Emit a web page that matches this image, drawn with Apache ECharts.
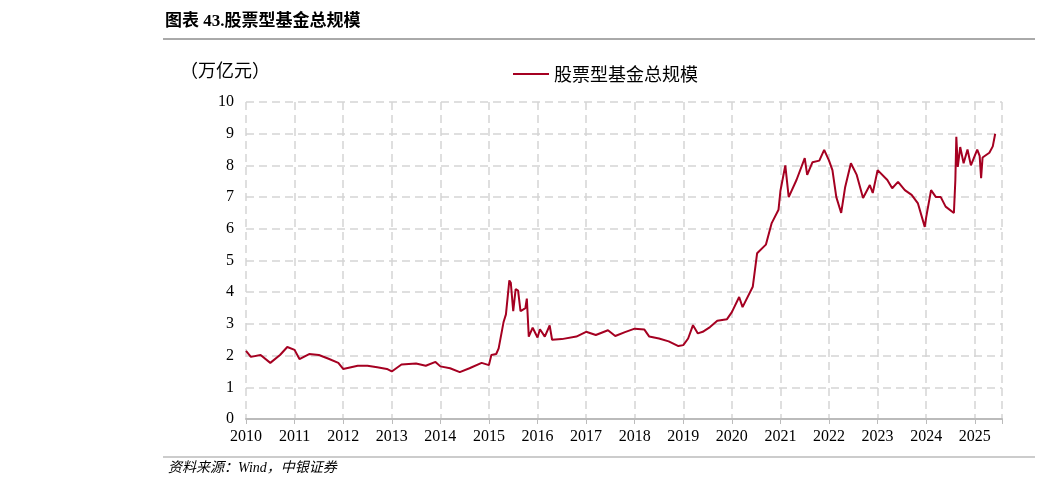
<!DOCTYPE html>
<html>
<head>
<meta charset="utf-8">
<script src="https://cdn.jsdelivr.net/npm/echarts@6/dist/echarts.min.js"></script>
<style>
  body { margin: 0; background: #fff; }
  #chart { width: 1042px; height: 484px; }
</style>
</head>
<body>
<div id="chart"></div>
<script>
// x = 年份(小数), y = 万亿元
const years = [
  2010.0, 2010.1, 2010.3, 2010.5, 2010.7, 2010.85, 2011.0, 2011.1, 2011.3, 2011.5, 2011.7, 2011.9,
  2012.0, 2012.3, 2012.5, 2012.7, 2012.9, 2013.0, 2013.2, 2013.5, 2013.7, 2013.9, 2014.0, 2014.2,
  2014.4, 2014.6, 2014.85, 2015.0, 2015.05, 2015.15, 2015.2, 2015.3, 2015.35, 2015.42, 2015.45,
  2015.5, 2015.55, 2015.6, 2015.65, 2015.75, 2015.78, 2015.82, 2015.9, 2016.0, 2016.05, 2016.15,
  2016.25, 2016.3, 2016.5, 2016.8, 2017.0, 2017.2, 2017.45, 2017.6, 2017.8, 2018.0, 2018.2, 2018.3,
  2018.5, 2018.7, 2018.9, 2019.0, 2019.1, 2019.2, 2019.3, 2019.4, 2019.55, 2019.7, 2019.9, 2020.0,
  2020.15, 2020.22, 2020.43, 2020.52, 2020.7, 2020.82, 2020.96, 2021.0, 2021.1, 2021.17, 2021.33,
  2021.5, 2021.55, 2021.66, 2021.8, 2021.9, 2022.0, 2022.07, 2022.15, 2022.25, 2022.33, 2022.45,
  2022.57, 2022.7, 2022.84, 2022.9, 2023.0, 2023.2, 2023.3, 2023.42, 2023.56, 2023.7, 2023.83,
  2023.97, 2024.0, 2024.1, 2024.2, 2024.3, 2024.4, 2024.57, 2024.6, 2024.62, 2024.65, 2024.7,
  2024.77, 2024.85, 2024.92, 2025.05, 2025.1, 2025.13, 2025.16, 2025.3, 2025.37, 2025.42
];
const scale = [
  2.15, 1.96, 2.02, 1.77, 2.02, 2.27, 2.18, 1.89, 2.05, 2.02, 1.9, 1.77,
  1.58, 1.68, 1.68, 1.63, 1.58, 1.5, 1.72, 1.75, 1.68, 1.8, 1.66, 1.6,
  1.48, 1.6, 1.77, 1.7, 2.02, 2.05, 2.23, 3.05, 3.3, 4.37, 4.3,
  3.4, 4.1, 4.05, 3.4, 3.5, 3.8, 2.6, 2.88, 2.57, 2.83, 2.6,
  2.95, 2.5, 2.52, 2.6, 2.75, 2.65, 2.8, 2.62, 2.74, 2.85, 2.82, 2.6,
  2.54, 2.45, 2.3, 2.33, 2.54, 2.96, 2.7, 2.75, 2.9, 3.1, 3.15, 3.37,
  3.85, 3.53, 4.17, 5.23, 5.5, 6.18, 6.6, 7.2, 8.0, 7.0, 7.54,
  8.23, 7.7, 8.1, 8.15, 8.49, 8.15, 7.85, 7.0, 6.5, 7.3, 8.07,
  7.7, 6.97, 7.38, 7.13, 7.85, 7.54, 7.28, 7.48, 7.22, 7.07, 6.8,
  6.06, 6.37, 7.22, 7.0, 7.0, 6.7, 6.5, 7.54, 8.9, 7.95, 8.58,
  8.07, 8.5, 8.0, 8.5, 8.3, 7.6, 8.25, 8.4, 8.6, 9.0
];
const seriesName = '股票型基金总规模';

const chart = echarts.init(document.getElementById('chart'));
chart.setOption({
  animation: false,
  textStyle: { fontFamily: '"Liberation Serif", "Noto Sans CJK SC", serif', color: '#000' },
  graphic: [
    { type: 'text', left: 165, top: 13, style: { text: '图表 43.股票型基金总规模', font: 'bold 17px "Liberation Serif", "Noto Sans CJK SC"', fill: '#000' } },
    { type: 'line', shape: { x1: 163, y1: 39, x2: 1035, y2: 39 }, style: { stroke: '#555', lineWidth: 1 } },
    { type: 'line', shape: { x1: 163, y1: 457, x2: 1035, y2: 457 }, style: { stroke: '#999', lineWidth: 1 } },
    { type: 'text', left: 168, top: 461, style: { text: '资料来源：Wind，中银证券', font: 'italic 14px "Liberation Serif", "Noto Sans CJK SC"', fill: '#000' } },
    { type: 'text', left: 180, top: 61, style: { text: '（万亿元）', font: '18px "Noto Sans CJK SC"', fill: '#000' } }
  ],
  legend: {
    left: 508, top: 60, itemWidth: 36, itemHeight: 2, itemGap: 8,
    icon: 'rect',
    textStyle: { fontSize: 18, fontFamily: '"Noto Sans CJK SC"', color: '#000' },
    data: [seriesName]
  },
  grid: { left: 246, right: 40, top: 102, bottom: 65 },
  xAxis: {
    type: 'value', min: 2010, max: 2025.56, interval: 1,
    axisLine: { lineStyle: { color: '#bbb', width: 2 } },
    axisTick: { show: true, lineStyle: { color: '#bbb' } },
    axisLabel: {
      fontSize: 16, color: '#000', margin: 10,
      formatter: v => Number.isInteger(v) ? String(v) : ''
    },
    splitLine: { show: true, lineStyle: { type: [8, 5], color: '#d5d5d5', width: 1.5 } }
  },
  yAxis: {
    type: 'value', min: 0, max: 10, interval: 1,
    axisLine: { show: false }, axisTick: { show: false },
    axisLabel: { fontSize: 16, color: '#000', margin: 12 },
    splitLine: { show: true, lineStyle: { type: [8, 5], color: '#d5d5d5', width: 1.5 } }
  },
  series: [{
    name: seriesName, type: 'line', showSymbol: false,
    lineStyle: { color: '#a50021', width: 2 }, itemStyle: { color: '#a50021' },
    data: years.map((y, i) => [y, scale[i]])
  }]
});
</script>
</body>
</html>
